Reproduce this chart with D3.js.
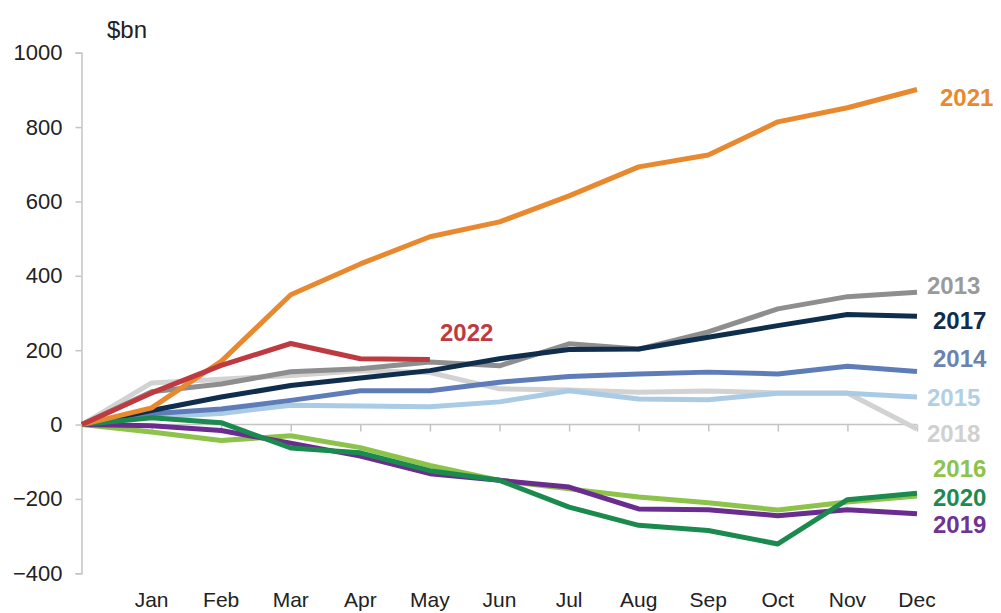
<!DOCTYPE html>
<html>
<head>
<meta charset="utf-8">
<script src="https://cdn.jsdelivr.net/npm/d3@7"></script>
<style>
  html, body { margin: 0; padding: 0; background: #fff; }
  svg { display: block; font-family: "Liberation Sans", Arial, sans-serif; }
</style>
</head>
<body>
<svg id="chart" width="1001" height="613"></svg>
<script>
// Cumulative flows by year, $bn. Index 0 is the starting point (0), then Jan..Dec.
const months = ["Jan", "Feb", "Mar", "Apr", "May", "Jun", "Jul", "Aug", "Sep", "Oct", "Nov", "Dec"];
const yTicks = [-400, -200, 0, 200, 400, 600, 800, 1000];

const y2013 = [0, 88, 109, 142, 150, 168, 158, 217, 203, 249, 311, 344, 356];
const y2014 = [0, 29, 42, 65, 91, 91, 114, 129, 136, 141, 136, 157, 143];
const y2015 = [0, 20, 30, 52, 50, 48, 61, 91, 69, 67, 84, 84, 74];
const y2016 = [0, -20, -43, -30, -62, -110, -150, -173, -195, -210, -230, -208, -192];
const y2017 = [0, 38, 74, 105, 125, 145, 177, 202, 203, 235, 266, 296, 291];
const y2018 = [0, 112, 122, 132, 145, 140, 96, 93, 87, 90, 85, 85, -12];
const y2019 = [0, -3, -16, -50, -85, -132, -150, -168, -227, -229, -245, -229, -240];
const y2020 = [0, 18, 5, -63, -76, -124, -150, -222, -271, -285, -321, -202, -185];
const y2021 = [0, 45, 170, 349, 432, 505, 545, 615, 693, 725, 814, 852, 901];
const y2022 = [0, 85, 159, 218, 177, 175];

// Series in drawing order (bottom first)
const series = [
  { name: "2018", values: y2018, color: "#d2d2d2", label: "#d0d0d0" },
  { name: "2015", values: y2015, color: "#aacbe6", label: "#b2cfe4" },
  { name: "2014", values: y2014, color: "#5e7db8", label: "#6b83ae" },
  { name: "2013", values: y2013, color: "#8e8e8e", label: "#9a9a9a" },
  { name: "2017", values: y2017, color: "#0f2d4c", label: "#102d4c" },
  { name: "2016", values: y2016, color: "#8dc34a", label: "#8dc34c" },
  { name: "2019", values: y2019, color: "#6a2d8f", label: "#6f3391" },
  { name: "2020", values: y2020, color: "#1b8a4e", label: "#1e8a50" },
  { name: "2021", values: y2021, color: "#e8892f", label: "#e8892f" },
  { name: "2022", values: y2022, color: "#bf3a40", label: "#bf3a40" }
];

// End-label placement (left x, vertical centre in px)
const labelPos = {
  "2021": [940, 97], "2013": [927, 285], "2017": [933, 320], "2014": [933, 358],
  "2015": [927, 397], "2018": [927, 433], "2016": [933, 468], "2020": [933, 497],
  "2019": [933, 524], "2022": [440, 332]
};

const svg = d3.select("#chart");

const x = d3.scaleLinear().domain([0, 12]).range([82, 917]);
const y = d3.scaleLinear().domain([-400, 1000]).range([573.3, 52.7]);

// Y axis
const yAxis = svg.append("g").attr("transform", "translate(81.5,0)")
  .call(d3.axisLeft(y).tickValues(yTicks).tickSize(6).tickPadding(13).tickFormat(d3.format("d")));
yAxis.select(".domain").attr("stroke", "#c4c4c4").attr("stroke-width", 1.5);
yAxis.selectAll(".tick line").attr("stroke", "#c4c4c4").attr("stroke-width", 1.5);
yAxis.selectAll(".tick text").attr("fill", "#222").style("font-size", "22px")
  .style("font-family", "'Liberation Sans', Arial, sans-serif");

// Zero line with month ticks
const monthAxis = svg.append("g").attr("transform", `translate(0,${y(0)})`)
  .call(d3.axisBottom(x).tickValues(d3.range(1, 13)).tickSize(7).tickFormat(""));
monthAxis.select(".domain").attr("stroke", "#c4c4c4").attr("stroke-width", 1.5)
  .attr("d", `M${x(0)},0H${x(12)}`);
monthAxis.selectAll(".tick line").attr("stroke", "#c4c4c4").attr("stroke-width", 1.5);

// Month labels along the bottom
svg.append("g").selectAll("text").data(months).join("text")
  .attr("x", (d, i) => x(i + 1))
  .attr("y", 607)
  .attr("text-anchor", "middle")
  .attr("fill", "#222")
  .style("font-size", "21px")
  .text(d => d);

// Unit label
svg.append("text").attr("x", 107).attr("y", 38).attr("fill", "#222")
  .style("font-size", "24px").text("$bn");

// Lines
const line = d3.line().x((d, i) => x(i)).y(d => y(d));
svg.append("g").selectAll("path").data(series).join("path")
  .attr("d", d => line(d.values))
  .attr("fill", "none")
  .attr("stroke", d => d.color)
  .attr("stroke-width", 5)
  .attr("stroke-linejoin", "round")
  .attr("stroke-linecap", "butt");

// Year labels
svg.append("g").selectAll("text").data(series).join("text")
  .attr("x", d => labelPos[d.name][0])
  .attr("y", d => labelPos[d.name][1])
  .attr("dy", "0.36em")
  .attr("fill", d => d.label)
  .style("font-size", "24px")
  .style("font-weight", "bold")
  .text(d => d.name);
</script>
</body>
</html>
